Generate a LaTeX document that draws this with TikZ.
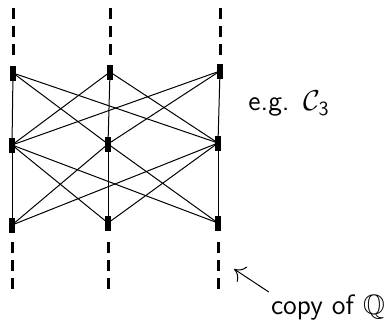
\documentclass[tikz,border=0pt]{standalone}
\usepackage{amsmath,amssymb}
\usepackage{tikz}
\usetikzlibrary{arrows.meta,positioning}

\begin{document}
\begin{tikzpicture}[
    x=0.5pt, y=-0.5pt,
    pt/.style={rectangle, fill=black, inner sep=0pt, minimum width=3pt, minimum height=7.5pt},
    edge/.style={line width=0.5pt},
    tail/.style={line width=1.5pt, dash pattern=on 5.5pt off 3.5pt},
    lbl/.style={font=\sffamily\fontsize{14}{16}\selectfont, inner sep=1pt},
    arr/.style={-{To[length=5pt,width=9pt]}, line width=0.5pt}
]
    \useasboundingbox (0,0) rectangle (392,323);

    % three copies of Q, three levels each
    \node [pt] (a1) at (13,73)  {};
    \node [pt] (a2) at (110,72) {};
    \node [pt] (a3) at (220,71) {};
    \node [pt] (b1) at (12,145) {};
    \node [pt] (b2) at (108,144) {};
    \node [pt] (b3) at (218,143) {};
    \node [pt] (c1) at (12,225) {};
    \node [pt] (c2) at (108,223) {};
    \node [pt] (c3) at (218,223) {};

    % complete bipartite between levels
    \foreach \i in {1,2,3} {
        \foreach \j in {1,2,3} {
            \draw [edge] (a\i.center) -- (b\j.center);
            \draw [edge] (b\i.center) -- (c\j.center);
        }
    }

    % dashed continuations
    \coordinate (u1) at (13,8);   \coordinate (v1) at (13,55);
    \coordinate (u2) at (110,8);  \coordinate (v2) at (110,55);
    \coordinate (u3) at (220,8);  \coordinate (v3) at (220,55);
    \coordinate (w1) at (12,242); \coordinate (z1) at (12,289);
    \coordinate (w2) at (108,242); \coordinate (z2) at (108,289);
    \coordinate (w3) at (218,242); \coordinate (z3) at (218,289);
    \foreach \k in {1,2,3} {
        \draw [tail] (u\k) -- (v\k);
        \draw [tail] (w\k) -- (z\k);
    }

    \node [lbl] (eg) at (289,104) {e.g.\ \,$\mathcal{C}_{\mathsf{3}}$};
    \node [lbl] (copy) at (328,307) {copy of $\mathbb{Q}$};
    \coordinate (head) at (234,269);
    \draw [arr] (copy.north west) -- (head);
\end{tikzpicture}
\end{document}
